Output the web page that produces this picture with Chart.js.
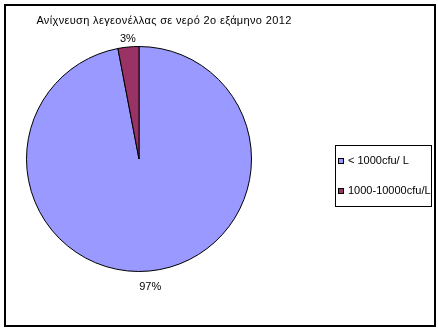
<!DOCTYPE html>
<html>
<head>
<meta charset="utf-8">
<script src="https://cdn.jsdelivr.net/npm/chart.js@4/dist/chart.umd.min.js"></script>
<style>
  html, body { margin: 0; padding: 0; background: #fff; }
  #wrap { width: 438px; height: 330px; position: relative; }
</style>
</head>
<body>
<div id="wrap"><canvas id="pieChart" width="438" height="330"></canvas></div>
<script>
var chartTitle = 'Ανίχνευση λεγεονέλλας σε νερό 2ο εξάμηνο 2012';
var categories = ['< 1000cfu/ L', '1000-10000cfu/L'];
var values = [97, 3];
var valueLabels = ['97%', '3%'];
var sliceColors = ['#9999FF', '#993366'];

var FONT = '"Liberation Sans", Arial, sans-serif';

// frame, title and boxed legend like the Excel original
var excelLook = {
    id: 'excelLook',
    beforeDraw: function (chart) {
        var c = chart.ctx;
        c.save();
        c.fillStyle = '#fff';
        c.fillRect(0, 0, chart.width, chart.height);
        c.restore();
    },
    afterDraw: function (chart) {
        var c = chart.ctx;
        c.save();
        // outer frame
        c.strokeStyle = '#000';
        c.lineWidth = 2;
        c.strokeRect(5, 5, 430, 321);

        // title
        c.fillStyle = '#000';
        c.font = '11px ' + FONT;
        c.letterSpacing = '0.35px';
        c.textAlign = 'center';
        c.textBaseline = 'alphabetic';
        c.fillText(chartTitle, 164, 24);
        c.letterSpacing = '0px';

        // legend
        c.lineWidth = 1;
        c.strokeRect(335.5, 145.5, 96, 61);
        c.textAlign = 'left';
        c.textBaseline = 'middle';
        categories.forEach(function (cat, i) {
            var y = 161 + i * 30;
            c.fillStyle = sliceColors[i];
            c.fillRect(338, y - 3, 6, 6);
            c.strokeStyle = '#000';
            c.strokeRect(338.5, y - 2.5, 5, 5);
            c.fillStyle = '#000';
            c.fillText(cat, 348, y);
        });
        c.restore();
    }
};

// percentage labels outside the slices
var outsideLabels = {
    id: 'outsideLabels',
    afterDatasetsDraw: function (chart) {
        var c = chart.ctx;
        var meta = chart.getDatasetMeta(0);
        c.save();
        c.font = '11px ' + FONT;
        c.fillStyle = '#000';
        c.textAlign = 'center';
        c.textBaseline = 'middle';
        meta.data.forEach(function (arc, i) {
            var p = arc.getProps(['x', 'y', 'startAngle', 'endAngle', 'outerRadius'], true);
            var mid = (p.startAngle + p.endAngle) / 2;
            var dx = Math.cos(mid), dy = Math.sin(mid);
            var w = c.measureText(valueLabels[i]).width;
            var h = 11;
            var r = p.outerRadius + 5;
            var x = p.x + dx * (r + w / 2 * Math.abs(dx));
            var y = p.y + dy * (r + h / 2 + 2 * Math.abs(dy)) + 4;
            c.fillText(valueLabels[i], x, y);
        });
        c.restore();
    }
};

new Chart(document.getElementById('pieChart').getContext('2d'), {
    type: 'pie',
    data: {
        labels: categories,
        datasets: [{
            data: values,
            backgroundColor: sliceColors,
            borderColor: '#000',
            borderWidth: 1
        }]
    },
    options: {
        responsive: false,
        animation: false,
        layout: {
            padding: { left: 26, top: 46, right: 186, bottom: 58 }
        },
        plugins: {
            legend: { display: false },
            title: { display: false },
            tooltip: { enabled: false }
        }
    },
    plugins: [excelLook, outsideLabels]
});
</script>
</body>
</html>
